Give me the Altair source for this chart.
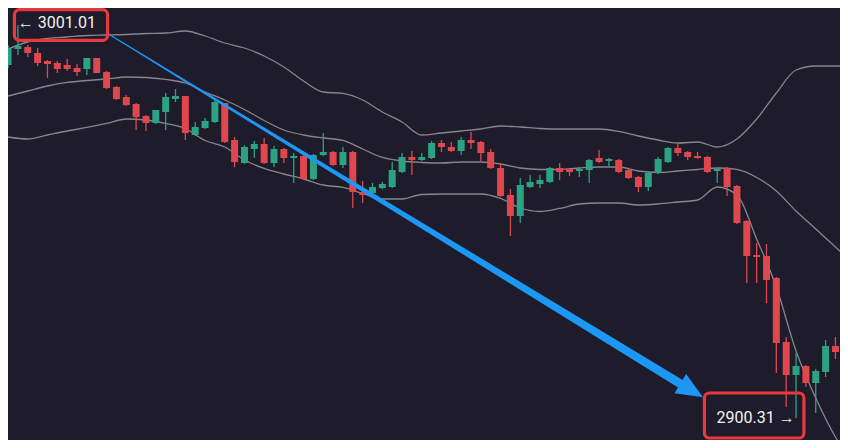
import altair as alt
import pandas as pd

# ---- candle data (index, OHLC) ----
idx = list(range(86))
open_ = [2990.75, 2994.75, 2995.25, 2993.75, 2991.75, 2991.25, 2990.75, 2990, 2989.75, 2992.5,
         2989, 2985.25, 2982.75, 2981, 2978, 2976.25, 2979, 2982.25, 2983, 2973.25,
         2975, 2976.5, 2981.25, 2972, 2966.25, 2969.75, 2971, 2966.25, 2969.75, 2967.5,
         2968, 2962.25, 2968.25, 2969, 2965.75, 2969, 2959, 2958.75, 2960, 2960.25,
         2964, 2967.75, 2967, 2967.5, 2971.25, 2970.25, 2969.25, 2972, 2971.5, 2969,
         2965, 2958.25, 2953, 2960.25, 2961, 2961.5, 2965, 2964.75, 2964.25, 2964.5,
         2967.5, 2966.75, 2967, 2964.5, 2962.75, 2960.25, 2963.75, 2966.5, 2970, 2969,
         2968, 2967.75, 2964.25, 2965, 2960.5, 2951.75, 2943.25, 2943, 2937.5, 2921.5,
         2913.25, 2915.5, 2911.25, 2914, 2920.5, 2919]
close_ = [2995, 2995.5, 2993.75, 2991.25, 2991, 2989.75, 2989.75, 2989, 2992.5, 2988.75,
          2985, 2982.25, 2980.75, 2977.75, 2976.25, 2979.5, 2982.75, 2983, 2973.75, 2975.25,
          2976.75, 2981.5, 2971.5, 2966.5, 2970.25, 2971, 2966.25, 2969.75, 2967.5, 2968,
          2962.25, 2968.25, 2969, 2965.75, 2969, 2959, 2958.25, 2960.25, 2961, 2964.5,
          2967.75, 2967, 2967.75, 2971.25, 2970.25, 2969.25, 2972, 2971.25, 2968.75, 2965,
          2958, 2953, 2960.75, 2961.5, 2962, 2965, 2964, 2964, 2964.75, 2967,
          2966.5, 2967.25, 2964, 2962.5, 2960.25, 2963.75, 2967.25, 2970, 2968.75, 2967.75,
          2967.5, 2964, 2964.75, 2960.25, 2951.25, 2943, 2942.75, 2937, 2921.25, 2913.25,
          2915.5, 2911.25, 2914.25, 2920.5, 2919, 2923.75]
high = [2995.75, 3000.75, 2995.75, 2995, 2992, 2991.75, 2992.25, 2991, 2992.5, 2992.5,
        2989.25, 2985.5, 2983.25, 2981.25, 2978.25, 2979.5, 2983.75, 2984.75, 2983, 2976.5,
        2977.5, 2982.25, 2981.25, 2972.75, 2970.75, 2971.75, 2972.5, 2970.5, 2970, 2968.75,
        2968.25, 2968.5, 2973.75, 2969.25, 2970.25, 2969.25, 2961.75, 2961.25, 2961.5, 2966.5,
        2968.75, 2969.25, 2968.75, 2971.75, 2972, 2971.5, 2972.75, 2974, 2971.75, 2969.75,
        2966.25, 2959.75, 2962.5, 2963.25, 2963.25, 2965.25, 2966.25, 2965, 2965.25, 2967.25,
        2969.5, 2967.5, 2967.25, 2964.75, 2963, 2964, 2967.75, 2970.25, 2971.25, 2969.25,
        2969, 2968, 2965, 2965.25, 2960.75, 2952, 2946.25, 2946, 2937.75, 2922.75,
        2918.75, 2915.75, 2914.75, 2922, 2922.75, 2924.5]
low = [2990, 2993.25, 2992.75, 2990.5, 2987.5, 2988.75, 2989.25, 2988, 2988.25, 2988.75,
       2984.75, 2982, 2980.5, 2974.5, 2974.25, 2976, 2974.5, 2981.5, 2972, 2973,
       2974.75, 2976.25, 2971.25, 2965.25, 2966, 2967.5, 2966, 2965.25, 2966.25, 2961.25,
       2962, 2962, 2968, 2965.5, 2965, 2955, 2956.25, 2958.5, 2959.75, 2960,
       2963.75, 2963.25, 2966.75, 2967.25, 2969, 2969, 2968.25, 2969.75, 2966.75, 2964.75,
       2957.75, 2948, 2951.25, 2960, 2960, 2961.25, 2962, 2963, 2962.75, 2961.25,
       2966.25, 2965.5, 2963.75, 2962.25, 2959, 2959.25, 2963.5, 2966.25, 2968, 2967,
       2967.25, 2963.75, 2961.25, 2958, 2951, 2936.25, 2936.25, 2931.25, 2913.75, 2905.25,
       2902.5, 2910.25, 2903.75, 2912.75, 2917.25, 2918.25]

# ---- Bollinger bands (read every 2nd candle) ----
band_idx = list(range(0, 87, 2))
upper = [2994.75, 2996.5, 2997.38, 2997.75, 2998.13, 2998.25, 2998.38, 2998.63, 2998.75, 2999.25,
         2998, 2996.25, 2995, 2993, 2990.25, 2986.75, 2984, 2983.63, 2982, 2979,
         2976.5, 2973.25, 2973.75, 2974.25, 2974.75, 2975.5, 2975.25, 2974.88, 2974.75, 2974.75,
         2974.75, 2974.13, 2973, 2972, 2971.25, 2971.5, 2970.25, 2972.25, 2977.25, 2983.75,
         2989.5, 2990.5, 2990.5, 2990.5]
middle = [2983, 2984.25, 2985.5, 2986.38, 2986.88, 2987.25, 2987.75, 2987.63, 2987.13, 2986.25,
          2984, 2982, 2979.63, 2976.88, 2974.5, 2973.25, 2972.5, 2971.88, 2969.75, 2967.63,
          2966.75, 2966.38, 2966.25, 2966.5, 2966.5, 2966, 2965, 2964.63, 2964.63, 2965,
          2965.25, 2965.25, 2964.25, 2963.88, 2964.25, 2964.63, 2965, 2964.63, 2962.63, 2959.25,
          2954.25, 2949.75, 2945.25, 2940.75]
lower = [2972.75, 2972.25, 2973.25, 2974.25, 2975.13, 2976.13, 2977.25, 2977, 2976.13, 2974.88,
         2971.88, 2970.25, 2967, 2964.88, 2963.5, 2962.25, 2960.75, 2960.13, 2958.63, 2957.25,
         2957.25, 2958.38, 2958.5, 2958.5, 2958.5, 2957.38, 2955, 2954.13, 2954.88, 2956,
         2956.25, 2956.25, 2955.75, 2956, 2956.5, 2957, 2960.25, 2958.25, 2947.25, 2935.25,
         2919.25, 2907.5, 2897.75, 2890.75]

# ---- annotations ----
arrow_i = [10.03, 68.3]
arrow_p = [2998.75, 2911.0]
arrow_w = [1.0, 9.0]
head_i = [69.4]
head_p = [2909.4]
box_i1 = [0.65, 70.7]
box_i2 = [10.1, 80.8]
box_p1 = [3004.6, 2908.75]
box_p2 = [2996.9, 2897.5]
label_text = ["\u2190 3001.01", "2900.31 \u2192"]
label_i = [4.95, 75.9]
label_p = [3001.3, 2902.6]

BG = "#1e1b2b"
UP = "#2ba383"
DOWN = "#e0474c"
BAND = "#86868e"
BLUE = "#1c97f3"
BOXRED = "#e8393d"

candles = pd.DataFrame({"i": idx, "open": open_, "close": close_, "high": high, "low": low})
candles["dir"] = ["up" if c >= o else "down" for o, c in zip(open_, close_)]

bands = pd.concat([
    pd.DataFrame({"i": band_idx, "v": upper, "band": "upper"}),
    pd.DataFrame({"i": band_idx, "v": middle, "band": "middle"}),
    pd.DataFrame({"i": band_idx, "v": lower, "band": "lower"}),
])

arrow = pd.DataFrame({"i": arrow_i, "p": arrow_p, "w": arrow_w})
head = pd.DataFrame({"i": head_i, "p": head_p})
boxes = pd.DataFrame({"i1": box_i1, "i2": box_i2, "p1": box_p1, "p2": box_p2})
labels = pd.DataFrame({"t": label_text, "i": label_i, "p": label_p})

xs = alt.Scale(domain=[0.5015, 83.955], nice=False, zero=False)
ys = alt.Scale(domain=[2897, 3005], nice=False, zero=False)
col = alt.Color("dir:N", scale=alt.Scale(domain=["up", "down"], range=[UP, DOWN]), legend=None)

band_layer = alt.Chart(bands).mark_line(color=BAND, strokeWidth=1.3, interpolate="monotone", clip=True).encode(
    x=alt.X("i:Q", scale=xs, axis=None),
    y=alt.Y("v:Q", scale=ys, axis=None),
    detail="band:N",
)

wicks = alt.Chart(candles).mark_rule(strokeWidth=1.3, clip=True).encode(
    x=alt.X("i:Q", scale=xs, axis=None),
    y=alt.Y("low:Q", scale=ys, axis=None),
    y2="high:Q",
    color=col,
)

bodies = alt.Chart(candles).mark_bar(size=7, clip=True).encode(
    x=alt.X("i:Q", scale=xs, axis=None),
    y=alt.Y("open:Q", scale=ys, axis=None),
    y2="close:Q",
    color=col,
)

arrow_layer = alt.Chart(arrow).mark_trail(color=BLUE, clip=True).encode(
    x=alt.X("i:Q", scale=xs, axis=None),
    y=alt.Y("p:Q", scale=ys, axis=None),
    size=alt.Size("w:Q", scale=None, legend=None),
)

head_layer = alt.Chart(head).mark_point(
    shape="M1,0L-1,-0.85L-1,0.85Z", filled=True, size=700, angle=31.1,
    color=BLUE, opacity=1, strokeWidth=0, clip=True,
).encode(
    x=alt.X("i:Q", scale=xs, axis=None),
    y=alt.Y("p:Q", scale=ys, axis=None),
)

box_layer = alt.Chart(boxes).mark_rect(
    filled=False, color=BOXRED, strokeWidth=3.2, cornerRadius=5, clip=True
).encode(
    x=alt.X("i1:Q", scale=xs, axis=None),
    x2="i2:Q",
    y=alt.Y("p1:Q", scale=ys, axis=None),
    y2="p2:Q",
)

text_layer = alt.Chart(labels).mark_text(
    font="Roboto", fontSize=16, color="#f2f2f2", align="center", baseline="middle", clip=True
).encode(
    x=alt.X("i:Q", scale=xs, axis=None),
    y=alt.Y("p:Q", scale=ys, axis=None),
    text="t:N",
)

chart = alt.layer(
    band_layer, wicks, bodies, arrow_layer, head_layer, box_layer, text_layer
).properties(
    width=832, height=432, autosize="none", padding=0, background=BG
).configure_view(stroke=None)

chart.save("out.html", embed_options={"renderer": "svg", "actions": False})
